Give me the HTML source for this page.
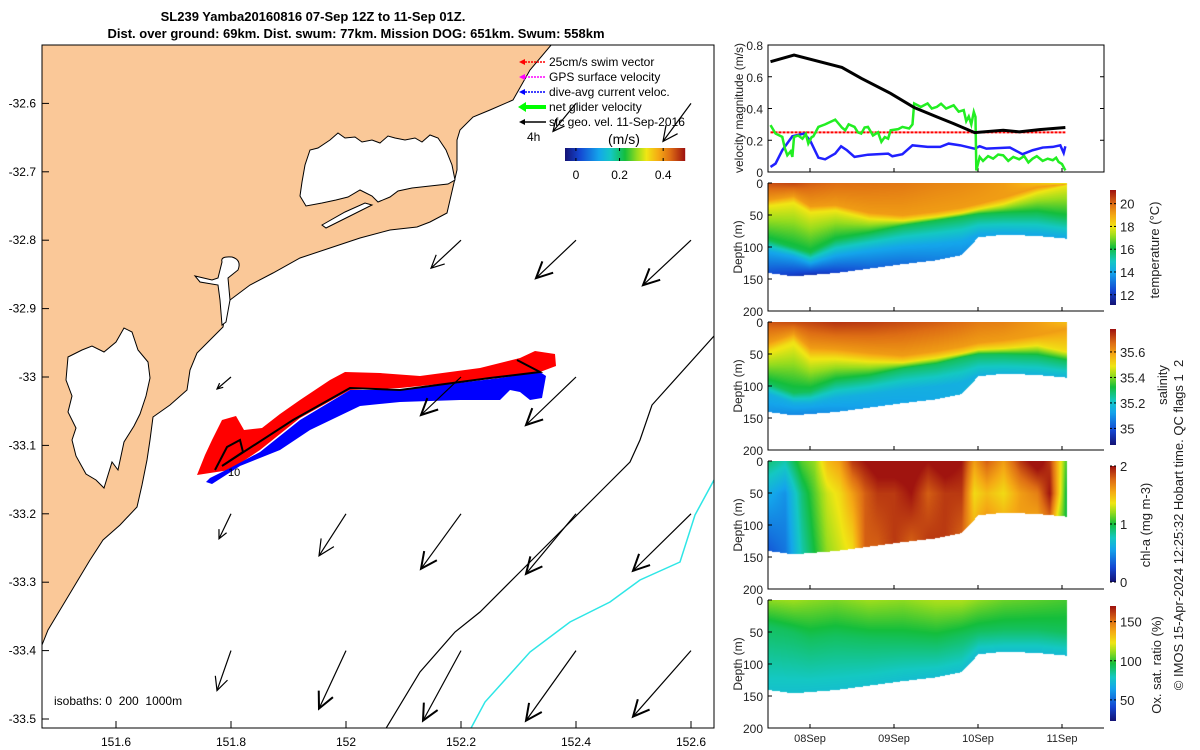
<!DOCTYPE html>
<html><head><meta charset="utf-8"><style>
body{margin:0;background:#fff;width:1200px;height:750px;overflow:hidden;position:relative;font-family:"Liberation Sans",sans-serif}
svg{position:absolute;left:0;top:0}
canvas{position:absolute}
</style></head><body>
<canvas id="cTemp" width="300" height="128" style="left:768px;top:183px"></canvas>
<canvas id="cSal" width="300" height="128" style="left:768px;top:322px"></canvas>
<canvas id="cChl" width="300" height="128" style="left:768px;top:461px"></canvas>
<canvas id="cOx" width="300" height="128" style="left:768px;top:600px"></canvas>
<canvas id="cbT" width="6" height="115" style="left:1110px;top:190px"></canvas>
<canvas id="cbS" width="6" height="116" style="left:1110px;top:329px"></canvas>
<canvas id="cbC" width="6" height="116" style="left:1110px;top:466px"></canvas>
<canvas id="cbO" width="6" height="115" style="left:1110px;top:606px"></canvas>
<svg id="s" width="1200" height="750" xmlns="http://www.w3.org/2000/svg" font-family="Liberation Sans, sans-serif">
<g font-weight="bold" font-size="13" text-anchor="middle">
<text x="313" y="21">SL239 Yamba20160816 07-Sep 12Z to 11-Sep 01Z.</text>
<text x="356" y="38">Dist. over ground: 69km. Dist. swum: 77km. Mission DOG: 651km. Swum: 558km</text>
</g>
<defs><clipPath id="mapclip"><rect x="42" y="45" width="672" height="683"/></clipPath></defs>
<g id="map" clip-path="url(#mapclip)">
<path fill="#fac898" stroke="#000" stroke-width="1" d="M42,40 L556,40 L552,44 L530,70 L513,100 L490,110 L473,117 L460,130 L457,140 L457,170 L453,187 L447,213 L430,222 L417,227 L390,230 L360,238 L333,247 L300,258 L273,273 L250,285 L230,300 L225,315 L223,327 L210,340 L197,353 L190,370 L187,390 L170,405 L153,417 L150,440 L147,460 L142,485 L137,507 L120,525 L103,540 L90,560 L75,585 L60,610 L48,630 L42,645 Z"/>
<path fill="#fff" stroke="#000" stroke-width="1" d="M300,196 L302,182 L305,165 L310,150 L318,148 L330,140 L338,133 L345,138 L355,137 L362,142 L372,140 L380,143 L388,136 L395,138 L405,140 L415,138 L422,142 L430,135 L438,138 L446,150 L452,165 L455,180 L448,184 L430,186 L412,188 L398,191 L390,197 L378,202 L372,196 L360,190 L348,197 L336,200 L322,203 L306,206 Z"/>
<path fill="#fff" stroke="#000" stroke-width="1" d="M322,225 L345,212 L365,203 L372,205 L350,216 L326,228 Z"/>
<path fill="#fff" stroke="#000" stroke-width="1" d="M222,262 Q220,256 232,257 Q242,260 238,270 L228,278 L230,300 L226,322 L222,325 L220,300 L218,285 L200,282 L195,276 L212,280 L218,278 Z"/>
<path fill="#fff" stroke="#000" stroke-width="1" d="M68,357 L82,350 L92,346 L104,352 L116,342 L124,328 L132,332 L138,350 L148,362 L150,378 L146,396 L140,414 L134,426 L124,442 L118,470 L112,462 L104,488 L96,480 L86,474 L76,456 L72,440 L76,428 L68,412 L72,396 L66,380 Z"/>
<polyline fill="none" stroke="#000" stroke-width="1.2" points="714,336 652,405 640,440 630,462 600,492 560,532 520,572 480,612 455,632 420,672 385,730"/>
<polyline fill="none" stroke="#2ee6e6" stroke-width="1.5" points="714,480 695,515 680,562 640,580 610,602 570,622 530,652 485,702 470,730"/>
<path fill="#f00" d="M197,475 L205,455 L212,440 L222,420 L236,416 L244,430 L262,428 L280,414 L300,400 L330,380 L345,372 L380,373 L420,376 L480,368 L520,358 L535,351 L555,354 L556,366 L540,372 L500,378 L400,388 L350,390 L300,418 L260,450 L230,470 L210,473 Z"/>
<path fill="#00f" d="M210,478 L230,468 L260,452 L300,420 L350,390 L400,390 L500,378 L540,372 L546,376 L542,398 L530,400 L520,392 L510,390 L500,400 L460,400 L400,402 L360,406 L310,430 L280,450 L240,466 L212,484 L206,482 Z"/>
<polyline fill="none" stroke="#000" stroke-width="2" points="215,470 227,447 240,440 243,452 222,466 293,420 350,388 400,390 490,378 540,372 517,360"/>
<g id="arrows"></g>
</g>
<rect x="42" y="45" width="672" height="683" fill="none" stroke="#000"/>
<g id="mapticks" font-size="12"></g>
<text x="54" y="705" font-size="12">isobaths: 0&#160;&#160;200&#160;&#160;1000m</text>
<text x="228" y="476" font-size="11" fill="#000">10</text>
<g font-size="12">
<line x1="522" y1="62" x2="546" y2="62" stroke="#f00" stroke-dasharray="2,1" stroke-width="1.5"/><path d="M519,62 l6,-3 v6z" fill="#f00"/>
<text x="549" y="66">25cm/s swim vector</text>
<line x1="522" y1="77" x2="546" y2="77" stroke="#f0f" stroke-dasharray="2,1" stroke-width="1.5"/><path d="M519,77 l6,-3 v6z" fill="#f0f"/>
<text x="549" y="81">GPS surface velocity</text>
<line x1="522" y1="92" x2="546" y2="92" stroke="#00f" stroke-dasharray="2,1" stroke-width="1.5"/><path d="M519,92 l6,-3 v6z" fill="#00f"/>
<text x="549" y="96">dive-avg current veloc.</text>
<line x1="522" y1="107" x2="546" y2="107" stroke="#0f0" stroke-width="4"/><path d="M518,107 l8,-5 v10z" fill="#0f0"/>
<text x="549" y="111">net glider velocity</text>
<line x1="522" y1="122" x2="546" y2="122" stroke="#000" stroke-width="1.5"/><path d="M519,122 l6,-3 v6z" fill="#000"/>
<text x="549" y="126">sfc geo. vel. 11-Sep-2016</text>
<text x="527" y="141">4h</text>
<text x="608" y="144" font-size="14">(m/s)</text>
</g>
<g id="velcb"></g>
<g id="vel"></g>
<g id="secs"></g>
<g font-size="13" fill="#222">
<text transform="translate(1159,250) rotate(-90)" text-anchor="middle">temperature (°C)</text>
<text transform="translate(1167,385) rotate(-90)" text-anchor="middle">salinity</text>
<text transform="translate(1150,525) rotate(-90)" text-anchor="middle">chl-a (mg m-3)</text>
<text transform="translate(1161,665) rotate(-90)" text-anchor="middle">Ox. sat. ratio (%)</text>
<text transform="translate(1183,525) rotate(-90)" text-anchor="middle">© IMOS 15-Apr-2024 12:25:32 Hobart time. QC flags 1&#160;&#160;2</text>
</g>
</svg>
<script>
var NS="http://www.w3.org/2000/svg";
function mk(p,tag,a){var e=document.createElementNS(NS,tag);for(var k in a)e.setAttribute(k,a[k]);p.appendChild(e);return e;}
// ---------- map data ----------
var lonTicks=[151.6,151.8,152,152.2,152.4,152.6];
var latTicks=[-32.6,-32.7,-32.8,-32.9,-33,-33.1,-33.2,-33.3,-33.4,-33.5];
var arrLon=[152.4,152.6,152.2,152.4,152.6,151.8,152.2,152.4,151.8,152.0,152.2,152.4,152.6,151.8,152.0,152.2,152.4,152.6];
var arrLat=[-32.6,-32.6,-32.8,-32.8,-32.8,-33.0,-33.0,-33.0,-33.2,-33.2,-33.2,-33.2,-33.2,-33.4,-33.4,-33.4,-33.4,-33.4];
var arrU=[-0.23,-0.28,-0.30,-0.40,-0.48,-0.14,-0.40,-0.50,-0.12,-0.27,-0.40,-0.50,-0.58,-0.14,-0.27,-0.38,-0.50,-0.58];
var arrV=[-0.28,-0.38,-0.28,-0.38,-0.45,-0.12,-0.38,-0.48,-0.25,-0.42,-0.55,-0.60,-0.57,-0.40,-0.58,-0.70,-0.70,-0.66];
function mx(lon){return 346+(lon-152)*575;}
function my(lat){return 377+(-33-lat)*684;}
var mt=document.getElementById('mapticks');
lonTicks.forEach(function(v){var x=mx(v);
 mk(mt,'line',{x1:x,y1:728,x2:x,y2:721,stroke:'#000'});
 var t=mk(mt,'text',{x:x,y:746,'text-anchor':'middle'});t.textContent=String(v);
 
 });
latTicks.forEach(function(v){var y=my(v);
 mk(mt,'line',{x1:42,y1:y,x2:49,y2:y,stroke:'#000'});
 var t=mk(mt,'text',{x:36,y:y+4,'text-anchor':'end'});t.textContent=String(v);
 
 });
var ag=document.getElementById('arrows');
for(var i=0;i<arrLon.length;i++){
 var x0=mx(arrLon[i]),y0=my(arrLat[i]),dx=arrU[i]*100;
 var x1=x0+dx,y1=y0-arrV[i]*100;
 var L=Math.sqrt(dx*dx+(y1-y0)*(y1-y0)),ux=dx/L,uy=(y1-y0)/L,h=Math.min(18,L*0.35);
 var g=mk(ag,'g',{});
 
 
 var w=L>50?2:1.2;
 mk(g,'line',{x1:x0,y1:y0,x2:x1,y2:y1,stroke:'#000','stroke-width':1.2});
 var ca=Math.cos(0.45),sa=Math.sin(0.45);
 var ax=-ux*ca+uy*sa,ay=-uy*ca-ux*sa,bx=-ux*ca-uy*sa,by=-uy*ca+ux*sa;
 mk(g,'polyline',{points:(x1+ax*h)+','+(y1+ay*h)+' '+x1+','+y1+' '+(x1+bx*h)+','+(y1+by*h),fill:'none',stroke:'#000','stroke-width':w});
}
// ---------- colormap ----------
function cl(v){return Math.max(0,Math.min(1,v));}
var cmS=[0,0.12,0.28,0.38,0.5,0.6,0.68,0.78,0.88,1];
var cmC=[[20,20,120],[20,70,210],[20,165,235],[20,200,195],[20,190,60],[150,220,30],[240,230,20],[245,170,20],[222,110,20],[160,20,15]];
function jet(v){v=cl(v);for(var i=1;i<cmS.length;i++){if(v<=cmS[i]){var f=(v-cmS[i-1])/(cmS[i]-cmS[i-1]);return [0,1,2].map(function(k){return Math.round(cmC[i-1][k]+f*(cmC[i][k]-cmC[i-1][k]));});}}return cmC[cmC.length-1];}
function cbar(id){var c=document.getElementById(id),x=c.getContext('2d');for(var p=0;p<c.height;p++){var k=jet(1-p/(c.height-1));x.fillStyle='rgb('+k+')';x.fillRect(0,p,c.width,1);}}
['cbT','cbS','cbC','cbO'].forEach(function(i){cbar(i);});
var vc=document.getElementById('velcb');
for(var p=0;p<120;p++){var k=jet(p/119);mk(vc,'rect',{x:565+p,y:148,width:1.2,height:13,fill:'rgb('+k+')'});}
var velCbTicks=[0,0.2,0.4];
velCbTicks.forEach(function(v){var x=565+(v+0.05)/0.55*120;mk(vc,'line',{x1:x,y1:148,x2:x,y2:151,stroke:'#000'});mk(vc,'line',{x1:x,y1:158,x2:x,y2:161,stroke:'#000'});var t=mk(vc,'text',{x:x,y:179,'text-anchor':'middle','font-size':12});t.textContent=String(v);});
// ---------- velocity panel data ----------
var geoT=[0.03,0.31,0.88,1.11,1.46,1.74,2.01,2.21,2.46,2.80,2.99,3.23,3.54];
var geoV=[0.695,0.737,0.659,0.59,0.495,0.406,0.347,0.305,0.248,0.263,0.253,0.267,0.28];
var curT=[0.03,0.09,0.17,0.29,0.43,0.50,0.60,0.68,0.80,0.87,0.94,1.03,1.19,1.43,1.48,1.60,1.72,1.90,2.05,2.15,2.29,2.46,2.52,2.60,2.88,3.03,3.15,3.27,3.39,3.48,3.52,3.54];
var curV=[0.032,0.053,0.137,0.225,0.242,0.2,0.09,0.08,0.116,0.162,0.137,0.095,0.109,0.116,0.099,0.112,0.168,0.158,0.158,0.179,0.168,0.147,0.162,0.147,0.154,0.112,0.137,0.154,0.158,0.168,0.12,0.162];
var netT=[0.03,0.09,0.17,0.2,0.23,0.27,0.29,0.31,0.36,0.41,0.45,0.48,0.52,0.54,0.60,0.68,0.80,0.88,0.92,0.96,1.03,1.07,1.11,1.15,1.19,1.25,1.31,1.35,1.39,1.43,1.46,1.55,1.60,1.68,1.72,1.74,1.82,1.90,1.95,2.01,2.06,2.12,2.21,2.27,2.33,2.36,2.39,2.42,2.45,2.47,2.48,2.52,2.56,2.62,2.68,2.74,2.80,2.86,2.92,2.99,3.05,3.10,3.15,3.20,3.27,3.33,3.39,3.43,3.46,3.50,3.54];
var netV=[0.295,0.242,0.221,0.15,0.105,0.13,0.095,0.221,0.23,0.21,0.24,0.179,0.22,0.225,0.284,0.30,0.33,0.28,0.263,0.30,0.284,0.25,0.242,0.28,0.284,0.23,0.25,0.19,0.22,0.21,0.263,0.27,0.284,0.274,0.30,0.432,0.41,0.432,0.40,0.41,0.43,0.40,0.42,0.38,0.39,0.32,0.35,0.30,0.379,0.347,0.01,0.095,0.07,0.10,0.084,0.11,0.105,0.07,0.095,0.08,0.10,0.06,0.084,0.10,0.07,0.084,0.074,0.09,0.063,0.05,0.01];
var swimT=[0.03,3.54];
var swimV=[0.25,0.25];
var dayTicks=[0.5,1.5,2.5,3.5];
var dayLabels=['08Sep','09Sep','10Sep','11Sep'];
function tx(t){return 768+t*84;}
function vy(v){return 172-v/0.8*127;}
var vel=document.getElementById('vel');
mk(vel,'rect',{x:768,y:45,width:336,height:127,fill:'none',stroke:'#000'});
[0,0.2,0.4,0.6,0.8].forEach(function(v){var y=vy(v);mk(vel,'line',{x1:768,y1:y,x2:772,y2:y,stroke:'#000'});mk(vel,'line',{x1:1104,y1:y,x2:1100,y2:y,stroke:'#000'});var t=mk(vel,'text',{x:763,y:y+5,'text-anchor':'end','font-size':12,fill:'#222'});t.textContent=String(v);});
dayTicks.forEach(function(d){var x=tx(d);mk(vel,'line',{x1:x,y1:172,x2:x,y2:168,stroke:'#000'});});
var yl=mk(vel,'text',{transform:'translate(743,108) rotate(-90)','text-anchor':'middle','font-size':12,fill:'#222'});yl.textContent='velocity magnitude (m/s)';
function line(T,V,col,w,dash,name){var pts=T.map(function(t,i){return tx(t)+','+vy(V[i]);}).join(' ');var e=mk(vel,'polyline',{points:pts,fill:'none',stroke:col,'stroke-width':w});if(dash)e.setAttribute('stroke-dasharray',dash);
 
 }
line(swimT,swimV,'#f00',2,'3,1','swim-speed-line');
line(curT,curV,'#2020ff',2.5,null,'current-line');
line(netT,netV,'#22ee22',2.5,null,'net-velocity-line');
line(geoT,geoV,'#000',3,null,'geostrophic-line');
// ---------- section data ----------
var secT=[0,0.3,0.5,0.8,1.2,1.6,2.0,2.3,2.5,2.8,3.2,3.54];
var secBottom=[140,145,143,140,133,126,120,112,84,80,82,86];
var tSurf=[20.4,20.5,20.2,20.0,19.9,19.8,19.6,19.5,19.4,19.2,18.6,18.0];
var tD19=[26,20,36,34,46,50,44,38,32,22,6,1];
var tD18=[35,30,45,42,55,58,52,46,40,32,14,3];
var tD16=[88,100,108,88,78,66,58,52,48,46,45,52];
var tD14=[106,114,124,112,104,98,94,90,80,79,81,86];
var tBot=[12.5,12,11.8,12.2,12.8,13,13.3,13.5,14,14.2,14.3,14.5];
var sSurf=[35.7,35.71,35.72,35.74,35.73,35.71,35.69,35.67,35.65,35.64,35.6,35.55];
var sD56=[32,18,40,42,48,52,45,38,32,28,20,10];
var sD55=[45,30,55,55,60,62,55,48,42,40,35,45];
var sD53=[95,110,108,92,85,72,65,55,50,50,52,60];
var sD515=[112,126,126,118,112,105,100,95,84,82,84,88];
var sBot=[35.1,35.08,35.08,35.1,35.12,35.13,35.14,35.15,35.18,35.18,35.2,35.2];
var chlT=[0,0.2,0.4,0.55,0.7,0.85,1.0,1.15,1.3,1.5,1.7,1.9,2.1,2.3,2.45,2.6,2.8,3.0,3.2,3.35,3.45,3.54];
var chlTop=[0.9,0.8,1.1,1.2,1.5,1.6,1.9,2.0,2.1,2.1,2.1,2.0,2.1,2.0,1.6,1.8,1.6,1.9,2.1,1.9,1.5,1.1];
var chlMid=[0.6,0.5,0.9,1.1,1.3,1.4,1.6,1.8,1.9,1.9,2.0,1.8,1.9,1.9,1.4,1.5,1.4,1.6,1.7,2.0,1.5,1.0];
var chlBot=[0.3,0.4,0.8,1.0,1.2,1.3,1.4,1.8,1.8,1.9,1.8,1.9,1.9,1.8,1.5,1.6,1.5,1.6,1.6,1.8,1.3,1.0];
var oxTop=[110,112,110,108,112,110,114,114,110,106,104,102];
var oxD95=[40,50,60,55,60,62,65,55,48,45,45,50];
var oxBot=[76,75,75,75,75,74,74,74,73,74,73,73];
function it(T,A,t){if(t<=T[0])return A[0];for(var i=1;i<T.length;i++){if(t<=T[i]){var f=(t-T[i-1])/(T[i]-T[i-1]);return A[i-1]+f*(A[i]-A[i-1]);}}return A[A.length-1];}
function prof(ds,vs,d){for(var i=1;i<ds.length;i++){if(d<=ds[i]){var f=(d-ds[i-1])/Math.max(0.001,ds[i]-ds[i-1]);return vs[i-1]+f*(vs[i]-vs[i-1]);}}return vs[vs.length-1];}
function drawSec(id,vmin,vmax,fn){var c=document.getElementById(id),x=c.getContext('2d'),im=x.createImageData(c.width,c.height);
 for(var px=0;px<c.width;px++){var t=px/84;if(t>3.55)continue;var bot=it(secT,secBottom,t);var r=fn(t,bot);
  for(var py=0;py<c.height;py++){var d=py/0.64;if(d>bot)break;var v=prof(r[0],r[1],d);var k=jet((v-vmin)/(vmax-vmin));var o=(py*c.width+px)*4;im.data[o]=k[0];im.data[o+1]=k[1];im.data[o+2]=k[2];im.data[o+3]=255;}}
 x.putImageData(im,0,0);}
function mono(a){for(var i=1;i<a.length;i++)if(a[i]<=a[i-1])a[i]=a[i-1]+0.5;return a;}
drawSec('cTemp',11.1,21.2,function(t,b){return [mono([0,it(secT,tD19,t),it(secT,tD18,t),it(secT,tD16,t),it(secT,tD14,t),b]),[it(secT,tSurf,t),19.2,18,16,14,it(secT,tBot,t)]];});
drawSec('cSal',34.87,35.78,function(t,b){return [mono([0,it(secT,sD56,t),it(secT,sD55,t),it(secT,sD53,t),it(secT,sD515,t),b]),[it(secT,sSurf,t),35.6,35.5,35.3,35.15,it(secT,sBot,t)]];});
drawSec('cChl',0,2,function(t,b){return [mono([0,50,b]),[it(chlT,chlTop,t),it(chlT,chlMid,t),it(chlT,chlBot,t)]];});
drawSec('cOx',23,170,function(t,b){return [mono([0,it(secT,oxD95,t),b]),[it(secT,oxTop,t),92,it(secT,oxBot,t)]];});
// ---------- section axes ----------
var secs=document.getElementById('secs');
var depthTicks=[0,50,100,150,200];
[183,322,461,600].forEach(function(top){
 var g=mk(secs,'g',{});
 
 
 mk(g,'polyline',{points:'768,'+top+' 768,'+(top+128)+' 1104,'+(top+128),fill:'none',stroke:'#000'});
 depthTicks.forEach(function(d){var y=top+d*0.64;mk(g,'line',{x1:768,y1:y,x2:772,y2:y,stroke:'#000'});var t=mk(g,'text',{x:763,y:y+5,'text-anchor':'end','font-size':12,fill:'#222'});t.textContent=String(d);});
 dayTicks.forEach(function(d){var x=tx(d);mk(g,'line',{x1:x,y1:top+128,x2:x,y2:top+124,stroke:'#000'});});
 var yl=mk(g,'text',{transform:'translate(742,'+(top+64)+') rotate(-90)','text-anchor':'middle','font-size':12,fill:'#222'});yl.textContent='Depth (m)';
});
dayTicks.forEach(function(d,i){var t=mk(secs,'text',{x:tx(d),y:742,'text-anchor':'middle','font-size':11,fill:'#222'});t.textContent=dayLabels[i];
 
 });
var cbTicks=[[190,115,11.1,21.2,[12,14,16,18,20]],[329,116,34.87,35.78,[35,35.2,35.4,35.6]],[466,116,0,2,[0,1,2]],[606,115,23,170,[50,100,150]]];
cbTicks.forEach(function(c){c[4].forEach(function(v){var y=c[0]+c[1]*(1-(v-c[2])/(c[3]-c[2]));mk(secs,'line',{x1:1110,y1:y,x2:1112,y2:y,stroke:'#000'});mk(secs,'line',{x1:1114,y1:y,x2:1116,y2:y,stroke:'#000'});var t=mk(secs,'text',{x:1120,y:y+5,'font-size':13,fill:'#222'});t.textContent=String(v);});});
</script>
</body></html>
